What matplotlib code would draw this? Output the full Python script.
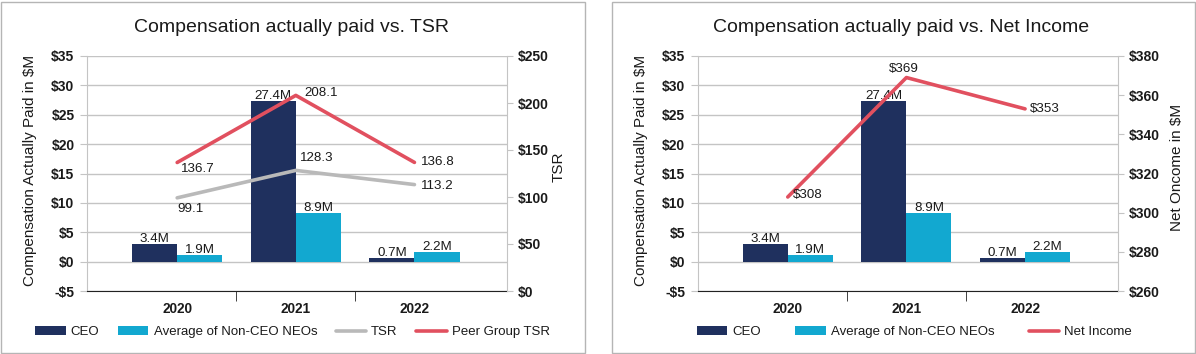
import matplotlib
matplotlib.use('Agg')
import matplotlib.pyplot as plt
from matplotlib.patches import Rectangle
import numpy as np

plt.rcParams['font.family'] = ['Liberation Sans', 'DejaVu Sans']

# data
years = ['2020', '2021', '2022']
ceo_height = [3.05, 27.4, 0.7]
neo_height = [1.15, 8.35, 1.7]
ceo_labels = ['3.4M', '27.4M', '0.7M']
neo_labels = ['1.9M', '8.9M', '2.2M']
tsr = [99.1, 128.3, 113.2]
peer_tsr = [136.7, 208.1, 136.8]
net_income = [308, 369, 353]
left_ticks = [-5, 0, 5, 10, 15, 20, 25, 30, 35]
tsr_ticks = [0, 50, 100, 150, 200, 250]
ni_ticks = [260, 280, 300, 320, 340, 360, 380]

NAVY = '#1f305e'
CYAN = '#12a8d0'
GRAY_LINE = '#b9b9b9'
RED = '#e1505f'
GRID = '#c4c4c4'
FRAME = '#b5b5b5'
TEXT = '#1a1a1a'

W, H = 1196, 354
fig = plt.figure(figsize=(W / 100, H / 100), dpi=100)


def money(v):
    return f'-${-v}' if v < 0 else f'${v}'


def panel(x0_px, title, title_x, right_label, right_label_x, ylim2, ticks2):
    ax = fig.add_axes([x0_px / W, 1 - 291 / H, 420 / W, 235 / H])
    x = np.arange(len(years))
    w = 0.38
    b1 = ax.bar(x - w / 2, ceo_height, w, color=NAVY, zorder=2, label='CEO')
    b2 = ax.bar(x + w / 2, neo_height, w, color=CYAN, zorder=2,
                label='Average of Non-CEO NEOs')
    for bars, labs in ((b1, ceo_labels), (b2, neo_labels)):
        for r, lab in zip(bars, labs):
            ax.annotate(lab, (r.get_x() + r.get_width() / 2, r.get_height()),
                        xytext=(0, 1), textcoords='offset points',
                        ha='center', va='baseline', fontsize=9.6, color=TEXT)
    ax.set_xlim(-0.76, 2.78)
    ax.set_ylim(-5, 35)
    ax.set_yticks(left_ticks, [money(v) for v in left_ticks],
                  fontweight='bold', fontsize=10, color=TEXT)
    ax.yaxis.grid(True, color=GRID, lw=1)
    ax.set_axisbelow(True)
    ax.tick_params(axis='y', length=5, color=GRID, pad=4)
    ax.set_xticks(x, years, fontweight='bold', fontsize=9.8, color=TEXT)
    ax.set_xticks([0.5, 1.5], minor=True)
    ax.tick_params(axis='x', which='major', length=0, pad=8)
    ax.tick_params(axis='x', which='minor', length=7, color='#222222')
    for s in ('top', 'right'):
        ax.spines[s].set_visible(False)
    ax.spines['left'].set_color(GRID)
    ax.spines['bottom'].set_color('#222222')

    ax2 = ax.twinx()
    ax2.set_ylim(*ylim2)
    ax2.set_yticks(ticks2, [money(v) for v in ticks2],
                   fontweight='bold', fontsize=10, color=TEXT)
    ax2.tick_params(axis='y', length=4, color=GRID, pad=4)
    for s in ('top', 'left', 'bottom'):
        ax2.spines[s].set_visible(False)
    ax2.spines['right'].set_color(GRID)

    fig.text(title_x / W, 1 - 27 / H, title, ha='center', va='center',
             fontsize=14, color=TEXT)
    fig.text((x0_px - 56.5) / W, 1 - 170 / H, 'Compensation Actually Paid in $M',
             rotation=90, ha='center', va='center', fontsize=11, color=TEXT)
    fig.text(right_label_x / W, 1 - 167 / H, right_label, rotation=90,
             ha='center', va='center', fontsize=11, color=TEXT)
    return ax, ax2, x


def add_labels(ax2, x, vals, fmt, offsets, aligns):
    for xi, v, off, al in zip(x, vals, offsets, aligns):
        ax2.annotate(fmt(v), (xi, v), xytext=off, textcoords='offset points',
                     ha=al, va='center', fontsize=9.6, color=TEXT)


# ---------- left panel: TSR ----------
axL, axL2, x = panel(87, 'Compensation actually paid vs. TSR', 292,
                     'TSR', 559, (0, 250), tsr_ticks)
axL2.plot(x, tsr, color=GRAY_LINE, lw=2.6, label='TSR', solid_capstyle='round')
axL2.plot(x, peer_tsr, color=RED, lw=2.6, label='Peer Group TSR',
          solid_capstyle='round')
add_labels(axL2, x, tsr, lambda v: f'{v:.1f}',
           [(0, -7.7), (3, 8.6), (5, -1.2)], ['left', 'left', 'left'])
add_labels(axL2, x, peer_tsr, lambda v: f'{v:.1f}',
           [(3, -4.5), (6.5, 1.5), (5, 0)], ['left', 'left', 'left'])

h1, l1 = axL.get_legend_handles_labels()
h2, l2 = axL2.get_legend_handles_labels()
axL2.legend(h1 + h2, l1 + l2, loc='center', ncol=4, frameon=False,
            bbox_to_anchor=(292.5 / W, 1 - 332 / H), bbox_transform=fig.transFigure,
            fontsize=9.5, handlelength=2.3, handleheight=0.7, handletextpad=0.4,
            columnspacing=1.4, borderaxespad=0, labelcolor=TEXT)

# ---------- right panel: Net Income ----------
axR, axR2, x = panel(697.6, 'Compensation actually paid vs. Net Income', 901,
                     'Net Oncome in $M', 1176.5, (260, 380), ni_ticks)
axR2.plot(x, net_income, color=RED, lw=2.6, label='Net Income',
          solid_capstyle='round')
add_labels(axR2, x, net_income, lambda v: f'${v}',
           [(4, 1.2), (-1.8, 5.8), (3.3, 0)], ['left', 'center', 'left'])

h1, l1 = axR.get_legend_handles_labels()
h2, l2 = axR2.get_legend_handles_labels()
axR2.legend(h1 + h2, l1 + l2, loc='center', ncol=3, frameon=False,
            bbox_to_anchor=(914.5 / W, 1 - 332 / H), bbox_transform=fig.transFigure,
            fontsize=9.5, handlelength=2.3, handleheight=0.7, handletextpad=0.4,
            columnspacing=2.6, borderaxespad=0, labelcolor=TEXT)

# panel frames
for fx, fw in ((0.5, 584), (612, 583)):
    fig.add_artist(Rectangle((fx / W, 1 / H), fw / W, 351 / H,
                             transform=fig.transFigure, fill=False,
                             ec=FRAME, lw=1))

fig.savefig('out.png', dpi=100, facecolor='white')
